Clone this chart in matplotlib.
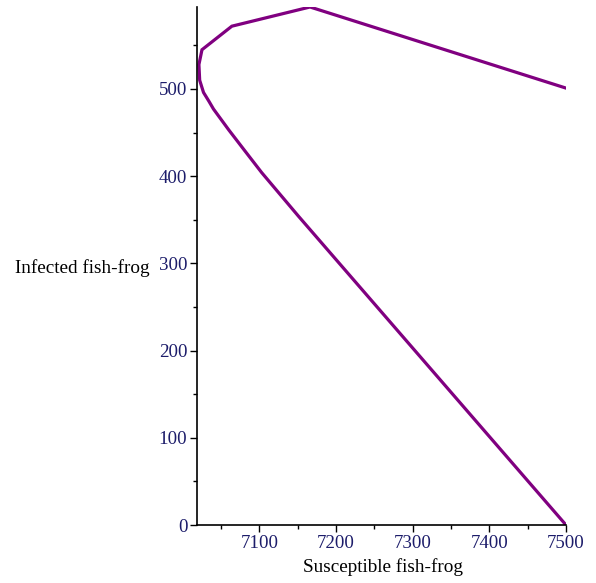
import numpy as np
import matplotlib
matplotlib.use("Agg")
import matplotlib.pyplot as plt
from matplotlib.ticker import MultipleLocator

# trajectory
susceptible = [7500, 7166, 7064, 7025, 7021, 7022, 7027, 7034, 7040, 7060, 7081, 7103, 7151, 7500]
infected = [501, 594, 572, 545, 528, 510, 496, 486, 477, 453, 429, 404, 354, 0]

x_ticks = [7100, 7200, 7300, 7400, 7500]
y_ticks = [0, 100, 200, 300, 400, 500]

plt.rcParams['font.family'] = ['Liberation Serif', 'DejaVu Serif']

fig = plt.figure(figsize=(5.96, 5.83), dpi=100)
ax = fig.add_axes([197 / 596, 1 - 525 / 583, (566 - 197) / 596, (525 - 7) / 583])

ax.plot(susceptible, infected, color="#800080", linewidth=2.3, solid_joinstyle="miter")

ax.set_xlim(7018.5, 7500)
ax.set_ylim(0, 594)
ax.set_xticks(x_ticks)
ax.set_yticks(y_ticks)
ax.xaxis.set_minor_locator(MultipleLocator(50))
ax.yaxis.set_minor_locator(MultipleLocator(50))

for s in ["top", "right"]:
    ax.spines[s].set_visible(False)
for s in ["left", "bottom"]:
    ax.spines[s].set_linewidth(1.2)

ax.tick_params(which="major", length=5, width=1, labelsize=13.6, labelcolor="#1c1c6a", pad=2)
ax.tick_params(which="minor", length=3, width=1)

ax.set_xlabel("Susceptible fish-frog", fontsize=13.8, labelpad=2)
ax.set_ylabel("Infected fish-frog", fontsize=13.8, rotation=0, ha="center", va="center")
ax.xaxis.set_label_coords((383 - 197) / (566 - 197), -(558 - 525) / (525 - 7))
ax.yaxis.set_label_coords(-(197 - 82) / (566 - 197), (525 - 268) / (525 - 7))

fig.savefig("out.png", dpi=100)
